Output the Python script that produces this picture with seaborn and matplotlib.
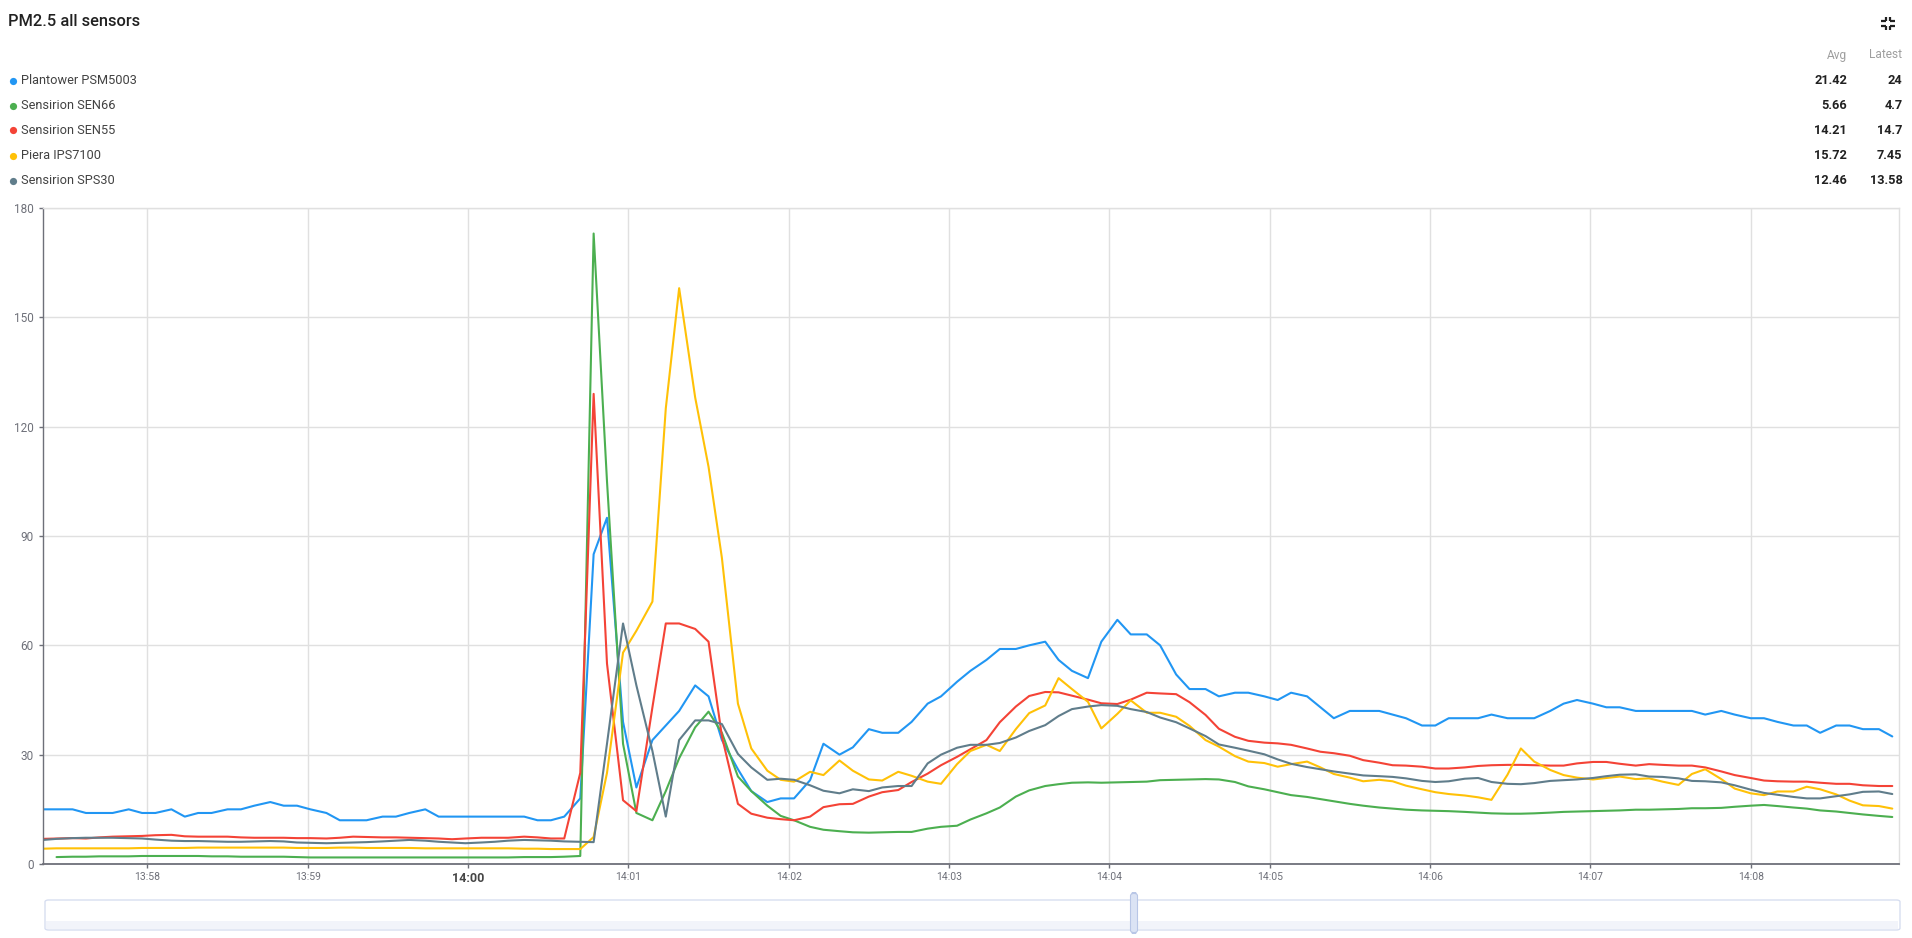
import numpy as np
import pandas as pd
import matplotlib
matplotlib.use("Agg")
import matplotlib.pyplot as plt
from matplotlib.lines import Line2D
from matplotlib.patches import Rectangle, FancyBboxPatch
import seaborn as sns

# ---------------- data ----------------
title = "PM2.5 all sensors"
sensor_names = ["Plantower PSM5003", "Sensirion SEN66", "Sensirion SEN55",
                "Piera IPS7100", "Sensirion SPS30"]
colors = ["#2196f3", "#4caf50", "#f44336", "#ffc107", "#607d8b"]
avg_values = ["21.42", "5.66", "14.21", "15.72", "12.46"]
latest_values = ["24", "4.7", "14.7", "7.45", "13.58"]

# sample times, seconds after 14:00:00
t_sec = [-159, -154, -148, -143, -138, -133, -127, -122, -117, -111,
         -106, -101, -96, -90, -85, -80, -74, -69, -64, -59,
         -53, -48, -43, -38, -32, -27, -22, -16, -11, -6,
         -1, 5, 10, 15, 21, 26, 31, 36, 42, 47,
         52, 58, 63, 69, 74, 79, 85, 90, 95, 101,
         106, 112, 117, 122, 128, 133, 139, 144, 150, 155,
         161, 166, 172, 177, 183, 188, 194, 199, 205, 210,
         216, 221, 226, 232, 237, 243, 248, 254, 259, 265,
         270, 276, 281, 287, 292, 298, 303, 308, 314, 319,
         324, 330, 335, 341, 346, 351, 357, 362, 367, 373,
         378, 383, 389, 394, 399, 405, 410, 415, 421, 426,
         431, 437, 442, 447, 453, 458, 463, 469, 474, 480,
         485, 490, 496, 501, 506, 512, 517, 522, 528, 533]

plantower = [15, 15, 15, 14, 14, 14, 15, 14, 14, 15,
             13, 14, 14, 15, 15, 16, 17, 16, 16, 15,
             14, 12, 12, 12, 13, 13, 14, 15, 13, 13,
             13, 13, 13, 13, 13, 12, 12, 13, 18, 85,
             95, 39, 21, 34, 38, 42, 49, 46, 34, 26,
             20, 17, 18, 18, 23, 33, 30, 32, 37, 36,
             36, 39, 44, 46, 50, 53, 56, 59, 59, 60,
             61, 56, 53, 51, 61, 67, 63, 63, 60, 52,
             48, 48, 46, 47, 47, 46, 45, 47, 46, 43,
             40, 42, 42, 42, 41, 40, 38, 38, 40, 40,
             40, 41, 40, 40, 40, 42, 44, 45, 44, 43,
             43, 42, 42, 42, 42, 42, 41, 42, 41, 40,
             40, 39, 38, 38, 36, 38, 38, 37, 37, 35]

sen66 = [np.nan, 1.9, 2.0, 2.0, 2.1, 2.1, 2.1, 2.2, 2.2, 2.2,
         2.2, 2.2, 2.1, 2.1, 2.0, 2.0, 2.0, 2.0, 1.9, 1.8,
         1.8, 1.8, 1.8, 1.8, 1.8, 1.8, 1.8, 1.8, 1.8, 1.8,
         1.8, 1.8, 1.8, 1.8, 1.9, 1.9, 1.9, 2.0, 2.2, 173,
         105, 33, 14, 12, 20, 29, 37.5, 41.8, 36, 24,
         20, 16, 13.2, 12.0, 10.2, 9.4, 9.0, 8.7, 8.6, 8.7,
         8.8, 8.8, 9.7, 10.2, 10.5, 12.2, 13.9, 15.5, 18.5, 20.2,
         21.4, 21.9, 22.3, 22.4, 22.3, 22.4, 22.5, 22.6, 23.0, 23.1,
         23.2, 23.3, 23.2, 22.5, 21.3, 20.5, 19.7, 18.9, 18.4, 17.8,
         17.2, 16.5, 16.0, 15.5, 15.2, 14.9, 14.7, 14.6, 14.5, 14.3,
         14.1, 13.9, 13.8, 13.8, 13.9, 14.1, 14.3, 14.4, 14.5, 14.6,
         14.7, 14.9, 14.9, 15.0, 15.1, 15.3, 15.3, 15.4, 15.7, 16.0,
         16.2, 15.9, 15.5, 15.2, 14.7, 14.4, 14.0, 13.6, 13.2, 12.9]

sen55 = [6.9, 7.0, 7.1, 7.0, 7.3, 7.5, 7.6, 7.7, 7.9, 8.0,
         7.6, 7.5, 7.5, 7.5, 7.3, 7.2, 7.2, 7.2, 7.1, 7.1,
         7.0, 7.2, 7.5, 7.4, 7.3, 7.3, 7.2, 7.1, 7.0, 6.8,
         7.0, 7.2, 7.2, 7.2, 7.5, 7.3, 7.0, 7.0, 25, 129,
         55, 17.5, 14.5, 43, 66, 66, 64.5, 61, 35, 16.5,
         13.8, 12.7, 12.3, 12.0, 13.0, 15.6, 16.4, 16.5, 18.5, 19.7,
         20.3, 22.5, 24.8, 27.1, 29.4, 31.5, 34.0, 38.9, 43.2, 46.1,
         47.2, 47.1, 46.2, 45.1, 44.1, 43.9, 45.1, 47.0, 46.8, 46.6,
         44.4, 40.9, 37.1, 34.9, 33.8, 33.3, 33.1, 32.7, 31.7, 30.8,
         30.4, 29.7, 28.5, 27.8, 27.1, 27.0, 26.7, 26.2, 26.2, 26.5,
         26.9, 27.1, 27.2, 27.2, 27.1, 27.0, 27.0, 27.6, 28.0, 28.0,
         27.5, 27.0, 27.4, 27.2, 27.0, 27.0, 26.5, 25.4, 24.4, 23.6,
         22.9, 22.7, 22.6, 22.6, 22.3, 22.0, 22.0, 21.6, 21.4, 21.4]

ips7100 = [4.2, 4.3, 4.3, 4.3, 4.3, 4.3, 4.3, 4.4, 4.4, 4.4,
           4.4, 4.5, 4.5, 4.5, 4.5, 4.5, 4.5, 4.5, 4.4, 4.4,
           4.4, 4.5, 4.5, 4.4, 4.4, 4.4, 4.4, 4.3, 4.3, 4.3,
           4.3, 4.3, 4.3, 4.3, 4.2, 4.2, 4.1, 4.1, 4.1, 7.4,
           25, 58, 64, 72, 125, 158, 128, 109, 84, 44,
           31.7, 25.6, 23.1, 22.6, 25.3, 24.4, 28.4, 25.6, 23.2, 22.9,
           25.3, 24.2, 22.6, 22.0, 27.4, 31.0, 32.7, 31.0, 37.0, 41.4,
           43.5, 51.0, 48.0, 44.5, 37.2, 41.2, 44.9, 41.5, 41.5, 40.4,
           37.9, 34.0, 32.2, 29.6, 28.1, 27.7, 26.7, 27.4, 28.1, 26.5,
           24.7, 23.7, 22.7, 23.1, 22.7, 21.5, 20.5, 19.7, 19.2, 18.8,
           18.3, 17.6, 24.5, 31.7, 28.1, 25.8, 24.4, 23.7, 23.2, 23.6,
           24.0, 23.3, 23.5, 22.6, 21.7, 24.7, 26.0, 23.3, 20.7, 19.4,
           18.9, 19.9, 19.9, 21.2, 20.5, 19.1, 17.4, 16.1, 15.9, 15.2]

sps30 = [6.6, 6.9, 7.1, 7.2, 7.2, 7.2, 7.1, 7.0, 6.7, 6.4,
         6.3, 6.3, 6.2, 6.1, 6.1, 6.2, 6.3, 6.2, 5.9, 5.8,
         5.7, 5.8, 5.9, 6.0, 6.2, 6.4, 6.6, 6.4, 6.1, 5.9,
         5.7, 5.9, 6.1, 6.4, 6.6, 6.5, 6.4, 6.2, 6.1, 6.0,
         33, 66, 49, 31, 13, 34, 39.4, 39.4, 38.4, 30.2,
         26.5, 23.1, 23.4, 23.1, 21.6, 20.1, 19.4, 20.5, 20.0, 21.0,
         21.4, 21.4, 27.6, 30.0, 31.9, 32.7, 32.7, 33.2, 34.7, 36.5,
         38.1, 40.6, 42.5, 43.2, 43.6, 43.4, 42.5, 41.7, 40.2, 38.9,
         37.2, 35.1, 32.8, 31.9, 31.1, 30.1, 28.7, 27.5, 26.6, 26.0,
         25.4, 24.8, 24.3, 24.1, 23.9, 23.5, 22.8, 22.5, 22.7, 23.4,
         23.6, 22.5, 22.0, 21.9, 22.2, 22.8, 23.0, 23.2, 23.6, 24.1,
         24.5, 24.6, 24.0, 23.9, 23.5, 22.8, 22.7, 22.4, 21.6, 20.4,
         19.5, 19.0, 18.4, 18.0, 18.0, 18.6, 19.1, 19.8, 19.9, 19.2]

x_tick_minutes = [-2, -1, 0, 1, 2, 3, 4, 5, 6, 7, 8]
x_tick_labels = ["13:58", "13:59", "14:00", "14:01", "14:02", "14:03",
                 "14:04", "14:05", "14:06", "14:07", "14:08"]
y_ticks = [0, 30, 60, 90, 120, 150, 180]

series = [plantower, sen66, sen55, ips7100, sps30]
for s in series:
    assert len(s) == len(t_sec)

frames = []
for name, vals in zip(sensor_names, series):
    frames.append(pd.DataFrame({"minute": np.array(t_sec) / 60.0,
                                "pm25": vals, "sensor": name}))
df = pd.concat(frames, ignore_index=True).dropna()

# ---------------- figure ----------------
sns.set_theme(style="white")
plt.rcParams['font.family'] = ['Roboto', 'DejaVu Sans']

W, H = 1912, 938
fig = plt.figure(figsize=(W / 100, H / 100), dpi=100)
fig.patch.set_facecolor("white")

def fx(px):
    return px / W

def fy(py):
    return 1 - py / H

ax_l, ax_r, ax_t, ax_b = 42.7, 1898.8, 208, 864
ax = fig.add_axes([fx(ax_l), fy(ax_b), fx(ax_r - ax_l), (ax_b - ax_t) / H])

sns.lineplot(data=df, x="minute", y="pm25", hue="sensor",
             hue_order=sensor_names, palette=dict(zip(sensor_names, colors)),
             linewidth=1.5, legend=False, estimator=None, sort=False, ax=ax)

ax.set_xlim(-2.653, 8.924)
ax.set_ylim(0, 180)
ax.set_xticks(x_tick_minutes)
ax.set_xticklabels(x_tick_labels)
ax.set_yticks(y_ticks)
ax.set_yticklabels([str(v) for v in y_ticks])
ax.set_xlabel("")
ax.set_ylabel("")

ax.grid(True, color="#e0e0e0", linewidth=1)
ax.set_axisbelow(True)
for side in ["top", "right"]:
    ax.spines[side].set_color("#e0e0e0")
    ax.spines[side].set_linewidth(1)
ax.spines["left"].set_color("#6e7079")
ax.spines["left"].set_linewidth(1)
ax.spines["bottom"].set_color("#6e7079")
ax.spines["bottom"].set_linewidth(1.3)

ax.tick_params(axis="y", length=3, width=1, color="#6e7079",
               labelcolor="#6e7079", labelsize=8.5, pad=3.5, left=True)
ax.tick_params(axis="x", length=3, width=1, color="#6e7079",
               labelcolor="#6e7079", labelsize=7.5, pad=3, bottom=True)
for lbl in ax.get_xticklabels():
    if lbl.get_text() == "14:00":
        lbl.set_fontweight("bold")
        lbl.set_fontsize(9)
        lbl.set_color("#464646")

# ---------------- header ----------------
fig.text(fx(8), fy(22), title, fontsize=11.8, fontweight="medium",
         color="#212121", va="center", ha="left")

row_y = [80.7, 105.7, 130.5, 155.7, 180.7]
fig.text(fx(1847), fy(55), "Avg", fontsize=8.6, color="#9e9e9e",
         ha="right", va="center")
fig.text(fx(1902.5), fy(55), "Latest", fontsize=8.6, color="#9e9e9e",
         ha="right", va="center")
for name, col, yy, av, la in zip(sensor_names, colors, row_y,
                                 avg_values, latest_values):
    fig.add_artist(Line2D([fx(12.7)], [fy(yy)], marker="o", markersize=5.2,
                          color=col, markeredgewidth=0, linestyle="none"))
    fig.text(fx(21.3), fy(yy), name, fontsize=9.2, color="#424242",
             ha="left", va="center")
    fig.text(fx(1847), fy(yy), av, fontsize=9.2, color="#212121",
             fontweight="bold", ha="right", va="center")
    fig.text(fx(1902.5), fy(yy), la, fontsize=9.2, color="#212121",
             fontweight="bold", ha="right", va="center")

# collapse (fullscreen-exit) icon
icx, icy = 1888, 23.5
g, L = 2.2, 4.5
for sx in (-1, 1):
    for sy in (-1, 1):
        cx, cy = icx + sx * g, icy + sy * g
        fig.add_artist(Line2D([fx(cx), fx(cx + sx * L)], [fy(cy), fy(cy)],
                              color="#212121", lw=1.6, solid_capstyle="butt"))
        fig.add_artist(Line2D([fx(cx), fx(cx)], [fy(cy), fy(cy + sy * L)],
                              color="#212121", lw=1.6, solid_capstyle="butt"))

# ---------------- data-zoom slider ----------------
fig.add_artist(FancyBboxPatch((fx(45), fy(930)), fx(1900 - 45), (930 - 900) / H,
                              boxstyle="round,pad=0,rounding_size=0.002",
                              transform=fig.transFigure, facecolor="#ffffff",
                              edgecolor="#d7def0", linewidth=1))
fig.add_artist(Rectangle((fx(46), fy(929)), fx(1898 - 46), (929 - 921) / H,
                         transform=fig.transFigure, facecolor="#f2f4fa",
                         edgecolor="none"))
fig.add_artist(FancyBboxPatch((fx(1130.5), fy(933)), fx(7), (933 - 893) / H,
                              boxstyle="round,pad=0,rounding_size=0.003",
                              transform=fig.transFigure, facecolor="#dbe3f4",
                              edgecolor="#b8c6e6", linewidth=0.8))

fig.savefig("out.png", dpi=100, facecolor="white")
